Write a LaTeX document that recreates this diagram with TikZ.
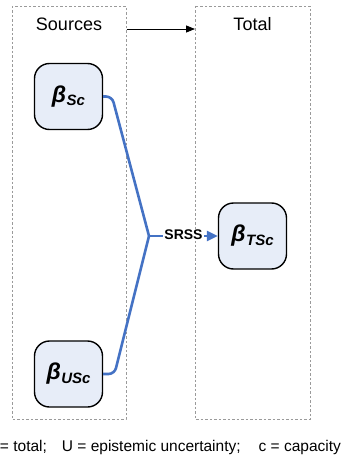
\documentclass[tikz,border=0pt]{standalone}
\usepackage{fontspec}
\setmainfont{Liberation Sans}
\usetikzlibrary{arrows.meta}

\definecolor{boxfill}{HTML}{E7EDF8}
\definecolor{linkblue}{HTML}{4472C4}
\definecolor{framegray}{HTML}{9A9A9A}

\tikzset{
  frame/.style={draw=framegray, line width=0.6pt, dash pattern=on 2.5pt off 2pt},
  title/.style={font=\fontsize{18}{18}\selectfont, anchor=base, inner sep=0pt},
  betabox/.style={draw=black, line width=1.4pt, fill=boxfill, rounded corners=15pt,
    minimum width=68pt, minimum height=66pt, inner sep=0pt},
  link/.style={draw=linkblue, line width=2.6pt, rounded corners=6pt},
  linktip/.style={-{Triangle[length=11pt,width=10pt]}},
  tag/.style={font=\fontsize{14}{14}\selectfont\bfseries, fill=white, inner sep=1pt},
  note/.style={font=\fontsize{15.5}{15.5}\selectfont, anchor=base west, inner sep=0pt},
}

% bold italic beta with a lowered bold italic subscript
\newcommand{\betaname}[1]{{\fontsize{23}{23}\selectfont\bfseries\itshape β}\kern0.5pt\raisebox{-3.5pt}{\fontsize{15}{15}\selectfont\bfseries\itshape #1}}

\begin{document}
\begin{tikzpicture}[x=1pt, y=-1pt]
  \clip (0,0) rectangle (341,460);

  % column frames
  \draw[frame] (12,6) rectangle (126,419);
  \draw[frame] (195,6) rectangle (310,419);
  \coordinate (srcedge) at (126.5,29);
  \coordinate (totedge) at (195,29);

  % column titles
  \node[title] (src) at (69,31) {Sources};
  \node[title] (tot) at (252.5,31) {Total};
  \draw[line width=0.8pt, -{Triangle[length=9pt,width=7pt]}] (srcedge) -- (totedge);

  % component and total nodes
  \node[betabox] (bs)  at (68.5,96.5) {\betaname{Sc}};
  \node[betabox] (bus) at (68.5,374)  {\betaname{USc}};
  \node[betabox] (bts) at (252.5,236) {\betaname{TSc}};

  % square-root-sum-of-squares combination
  \coordinate (junc) at (149,236);
  \draw[link] (bs.east) -- (112,96.5) -- (junc);
  \draw[link] (bus.east) -- (114.5,374) -- (junc);
  \draw[link, linktip] (junc) -- (bts.west);
  \node[tag] (srss) at (183.5,235) {SRSS};

  % legend, wider than the page and cut at both sides
  \node[note] (legend) at (-14,451) {T = total;\hspace{15pt}U = epistemic uncertainty;\hspace{18pt}c = capacity};
\end{tikzpicture}
\end{document}
